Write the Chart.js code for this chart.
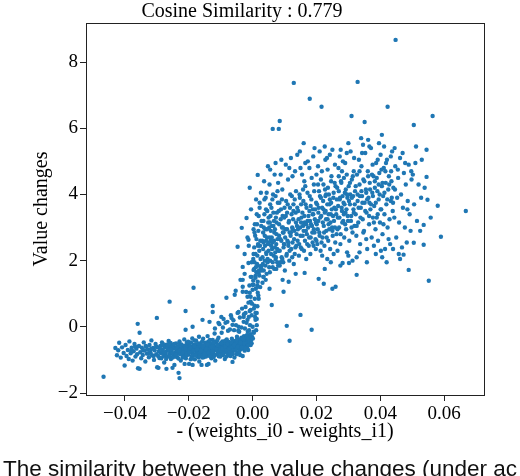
<!DOCTYPE html>
<html>
<head>
<meta charset="utf-8">
<script src="https://cdn.jsdelivr.net/npm/chart.js@4.4.1/dist/chart.umd.min.js"></script>
<style>
  html, body { margin: 0; padding: 0; background: #fff; overflow: hidden; }
  #wrap { position: relative; width: 520px; height: 476px; }
  #caption {
    position: absolute; left: 3px; top: 458px; white-space: nowrap;
    font-family: "Liberation Sans", Arial, sans-serif; font-size: 22.5px; line-height: 22px; color: #111;
  }
</style>
</head>
<body>
<div id="wrap">
  <canvas id="scatterChart" width="520" height="476"></canvas>
  <div id="caption">The similarity between the value changes (under ac</div>
</div>
<script>
const chartTitle = 'Cosine Similarity : 0.779';
const xTitle = '- (weights_i0 - weights_i1)';
const yTitle = 'Value changes';
const xTicks = [-0.04, -0.02, 0.00, 0.02, 0.04, 0.06];
const yTicks = [-2, 0, 2, 4, 6, 8];

// left band, x < 0
const bandPoints = [
  [-0.0430,-0.64],[-0.0425,-0.86],[-0.0421,-0.71],[-0.0418,-0.48],[-0.0413,-0.93],[-0.0409,-0.62],[-0.0404,-0.79],[-0.0401,-1.17],
  [-0.0398,-0.55],[-0.0395,-0.88],[-0.0391,-0.70],[-0.0388,-0.97],[-0.0386,-0.44],[-0.0382,-0.80],[-0.0379,-0.63],[-0.0376,-1.02],
  [-0.0373,-0.74],[-0.0370,-0.52],[-0.0367,-0.90],[-0.0364,-0.66],[-0.0362,-0.83],[-0.0359,-1.25],[-0.0356,-0.58],[-0.0354,-0.18],
  [-0.0352,-0.77],[-0.0349,-0.95],[-0.0347,-0.63],[-0.0344,-0.85],[-0.0341,-0.47],[-0.0338,-0.72],[-0.0336,-1.05],[-0.0333,-0.60],
  [-0.0331,-0.81],[-0.0328,-0.68],[-0.0325,-0.92],[-0.0323,-0.55],[-0.0320,-0.77],[-0.0317,-0.41],[-0.0315,-0.86],[-0.0312,-0.64],
  [-0.0309,-1.00],[-0.0307,-0.71],[-0.0304,-0.52],[-0.0302,-0.83],[-0.0299,-1.22],[-0.0297,-0.62],[-0.0294,-0.75],[-0.0292,-0.94],
  [-0.0289,-0.58],[-0.0287,-0.80],[-0.0284,-0.47],[-0.0282,-0.69],[-0.0279,-0.88],[-0.0277,-1.08],[-0.0275,-0.63],[-0.0272,-0.76],
  [-0.0270,-0.54],[-0.0268,-0.91],[-0.0265,-0.70],[-0.0263,-0.43],[-0.0261,-0.82],[-0.0258,-0.61],[-0.0256,-0.97],[-0.0254,-0.73],
  [-0.0251,-0.56],[-0.0249,-0.85],[-0.0247,-0.66],[-0.0245,-1.15],[-0.0242,-0.78],[-0.0240,-0.50],[-0.0238,-0.70],[-0.0236,-0.92],
  [-0.0233,-0.62],[-0.0231,-0.81],[-0.0229,-0.44],[-0.0227,-0.68],[-0.0225,-1.02],[-0.0222,-0.75],[-0.0220,-0.58],[-0.0218,-0.87],
  [-0.0216,-0.65],[-0.0214,-0.38],[-0.0212,-0.79],[-0.0209,-0.95],[-0.0207,-0.60],[-0.0205,-0.72],[-0.0203,-0.52],[-0.0201,-0.84],
  [-0.0199,-1.12],[-0.0197,-0.67],[-0.0195,-0.76],[-0.0193,-0.47],[-0.0191,-0.90],[-0.0189,-0.62],[-0.0187,-0.80],[-0.0185,-0.55],
  [-0.0183,-0.70],[-0.0181,-0.98],[-0.0179,-0.64],[-0.0177,-0.42],[-0.0175,-0.78],[-0.0173,-0.88],[-0.0171,-0.58],[-0.0169,-0.72],
  [-0.0167,-1.05],[-0.0165,-0.66],[-0.0163,-0.50],[-0.0161,-0.83],[-0.0159,-0.61],[-0.0157,-0.74],[-0.0155,-0.36],[-0.0153,-0.92],
  [-0.0151,-0.68],[-0.0149,-0.55],[-0.0147,-0.79],[-0.0145,-0.63],[-0.0143,-1.15],[-0.0141,-0.71],[-0.0139,-0.45],[-0.0137,-0.86],
  [-0.0135,-0.60],[-0.0133,-0.75],[-0.0131,-0.52],[-0.0129,-0.95],[-0.0127,-0.66],[-0.0125,-0.40],[-0.0123,-0.80],[-0.0121,-0.58],
  [-0.0119,-0.70],[-0.0117,-1.02],[-0.0115,-0.62],[-0.0113,-0.48],[-0.0111,-0.82],[-0.0109,-0.67],[-0.0107,-0.33],[-0.0105,-0.76],
  [-0.0103,-0.55],[-0.0101,-0.90],[-0.0099,-0.61],[-0.0097,-0.72],[-0.0095,-0.44],[-0.0093,-0.85],[-0.0091,-0.58],[-0.0089,-0.68],
  [-0.0087,-0.97],[-0.0085,-0.52],[-0.0083,-0.75],[-0.0081,-0.38],[-0.0079,-0.63],[-0.0077,-0.82],[-0.0075,-0.55],[-0.0073,-0.70],
  [-0.0071,-0.47],[-0.0069,-0.88],[-0.0067,-0.60],[-0.0065,-0.36],[-0.0063,-0.73],[-0.0061,-0.52],[-0.0059,-0.65],[-0.0057,-0.93],
  [-0.0055,-0.44],[-0.0053,-0.68],[-0.0051,-0.57],[-0.0049,-0.30],[-0.0047,-0.78],[-0.0045,-0.50],[-0.0043,-0.62],[-0.0041,-0.40],
  [-0.0039,-0.85],[-0.0037,-0.55],[-0.0035,-0.33],[-0.0033,-0.66],[-0.0031,-0.47],[-0.0029,-0.58],[-0.0027,-0.28],[-0.0025,-0.72],
  [-0.0023,-0.42],[-0.0021,-0.52],[-0.0019,-0.35],[-0.0017,-0.63],[-0.0015,-0.45],[-0.0013,-0.26],[-0.0011,-0.55],[-0.0009,-0.38],
  [-0.0007,-0.48],
  [-0.0283,-0.73],[-0.0278,-0.57],[-0.0273,-0.84],[-0.0267,-0.62],[-0.0262,-0.70],[-0.0257,-0.49],[-0.0252,-0.79],[-0.0248,-0.60],
  [-0.0243,-0.90],[-0.0239,-0.66],[-0.0234,-0.74],[-0.0230,-0.55],[-0.0226,-0.83],[-0.0221,-0.64],[-0.0217,-0.71],[-0.0213,-0.57],
  [-0.0208,-0.80],[-0.0204,-0.63],[-0.0200,-0.69],[-0.0196,-0.58],[-0.0192,-0.74],[-0.0188,-0.87],[-0.0184,-0.66],[-0.0180,-0.53],
  [-0.0176,-0.71],[-0.0172,-0.63],[-0.0168,-0.80],[-0.0164,-0.57],[-0.0160,-0.69],[-0.0156,-0.61],[-0.0152,-0.77],[-0.0148,-0.48],
  [-0.0144,-0.66],[-0.0140,-0.58],[-0.0136,-0.72],[-0.0132,-0.63],[-0.0128,-0.83],[-0.0124,-0.55],[-0.0120,-0.66],[-0.0116,-0.45],
  [-0.0112,-0.71],[-0.0108,-0.59],[-0.0104,-0.64],[-0.0100,-0.50],[-0.0096,-0.77],[-0.0092,-0.62],[-0.0088,-0.54],[-0.0084,-0.66],
  [-0.0080,-0.58],[-0.0076,-0.45],[-0.0072,-0.62],[-0.0068,-0.52],[-0.0064,-0.70],[-0.0060,-0.43],[-0.0056,-0.58],[-0.0052,-0.48],
  [-0.0048,-0.65],[-0.0044,-0.38],[-0.0040,-0.55],[-0.0036,-0.45],[-0.0032,-0.56],[-0.0028,-0.40],[-0.0024,-0.52],[-0.0020,-0.30],
  [-0.0016,-0.44],[-0.0012,-0.36],[-0.0008,-0.28],[-0.0004,-0.40],
  [-0.0219,-0.93],[-0.0206,-0.47],[-0.0194,-0.98],[-0.0182,-0.41],[-0.0170,-0.92],[-0.0158,-0.44],[-0.0146,-0.90],[-0.0134,-0.40],
  [-0.0122,-0.91],[-0.0110,-0.40],[-0.0098,-0.85],[-0.0086,-0.42],[-0.0074,-0.86],[-0.0062,-0.60],[-0.0050,-0.83],[-0.0038,-0.68],
  [-0.0026,-0.60],[-0.0014,-0.70],[-0.0006,-0.55],[-0.0002,-0.30],
  [-0.0296,-0.88],[-0.0291,-0.66],[-0.0286,-0.95],[-0.0281,-0.52],[-0.0276,-0.78],[-0.0271,-0.97],[-0.0266,-0.55],[-0.0260,-0.89],
  [-0.0255,-0.68],[-0.0250,-0.93],[-0.0246,-0.52],[-0.0241,-0.84],[-0.0237,-0.61],[-0.0232,-0.96],[-0.0228,-0.72],[-0.0223,-0.53],
  [-0.0219,-0.78],[-0.0215,-0.91],[-0.0211,-0.66],[-0.0206,-0.85],[-0.0202,-0.45],[-0.0198,-0.78],[-0.0194,-0.64],[-0.0190,-0.96],
  [-0.0186,-0.72],[-0.0182,-0.59],[-0.0178,-0.86],[-0.0174,-0.68],[-0.0170,-0.50],[-0.0166,-0.88],[-0.0162,-0.73],[-0.0158,-0.93],
  [-0.0154,-0.56],[-0.0150,-0.82],[-0.0146,-0.69],[-0.0142,-0.53],[-0.0138,-0.79],[-0.0134,-0.88],[-0.0130,-0.61],[-0.0126,-0.74],
  [-0.0122,-0.47],[-0.0118,-0.85],[-0.0114,-0.67],[-0.0110,-0.55],[-0.0106,-0.89],[-0.0102,-0.70],[-0.0098,-0.49],[-0.0094,-0.66],
  [-0.0090,-0.80],[-0.0086,-0.60],[-0.0082,-0.90],[-0.0078,-0.52],[-0.0074,-0.67],[-0.0070,-0.78],[-0.0066,-0.47],[-0.0062,-0.82],
  [-0.0058,-0.55],[-0.0054,-0.72],[-0.0050,-0.40],[-0.0046,-0.60],[-0.0042,-0.75],[-0.0038,-0.48],[-0.0034,-0.62],[-0.0030,-0.35],
  [-0.0026,-0.50],[-0.0022,-0.65],[-0.0018,-0.25],[-0.0014,-0.55],[-0.0010,-0.45],[-0.0006,-0.22],[-0.0003,-0.50],[0.0001,-0.35],
  [0.0003,-0.15],
  [-0.0189,-0.35],[-0.0168,-0.30],[-0.0141,-0.28],[-0.0119,-0.20],[-0.0097,-0.18],[-0.0077,-0.12],[-0.0058,-0.10],[-0.0042,-0.15],
  [-0.0024,-0.05],[-0.0011,-0.10],[-0.0335,-0.58],[-0.0326,-0.80],[-0.0318,-0.67],[-0.0310,-0.88],[-0.0302,-0.60],[-0.0380,-0.72],
  [-0.0368,-0.60],[-0.0343,-0.70],
  [-0.0467,-1.51],[-0.0354,-1.27],[-0.0295,-1.24],[-0.0270,-1.27],[-0.0251,-1.24],[-0.0213,-1.12],[-0.0188,-1.15],[-0.0160,-1.15],
  [-0.0138,-1.12],[-0.0063,-1.06],[-0.0031,-0.88],[-0.0229,-1.55],[-0.0232,-1.39]
];

// points lifted above the band and the steep rise near x = 0
const risePoints = [
  [-0.0360,0.09],[-0.0300,0.27],[-0.0260,0.76],[-0.0210,0.48],[-0.0185,1.18],[-0.0210,-0.09],[-0.0188,0.00],[-0.0157,0.21],
  [-0.0125,0.63],[-0.0125,0.45],[-0.0135,0.15],[-0.0107,0.12],[-0.0091,0.24],[-0.0085,0.12],[-0.0082,0.88],[-0.0056,0.97],
  [-0.0053,1.09],[-0.0031,1.42],[-0.0031,1.21],[-0.0025,1.60],[-0.0047,0.42],[-0.0022,0.42],[-0.0028,0.15],[-0.0066,0.27],
  [-0.0063,0.06],[-0.0044,0.00],[-0.0013,0.73],[-0.0006,0.91],[0.0000,1.12],[0.0013,0.42],[0.0013,0.24],[0.0003,1.27],
  [0.0019,0.85],[0.0016,1.03],[0.0009,1.54],[-0.0003,1.51],[0.0034,1.51],[0.0031,1.33],
  [-0.0038,1.42],[-0.0031,1.06],[-0.0016,0.91],[-0.0009,1.03],[0.0000,1.27],[-0.0006,0.76],[-0.0022,0.60],[-0.0006,0.51],
  [-0.0044,0.45],[-0.0028,0.30],[0.0009,0.42],[-0.0016,0.21],[0.0009,0.21],[0.0000,0.00],[-0.0047,2.42],[-0.0013,2.63],
  [-0.0031,1.81],[-0.0013,1.93],[0.0003,1.72],[-0.0006,1.51],[0.0009,1.48],[0.0019,1.63],[0.0025,1.81],[0.0034,1.51],
  [0.0016,1.36],[0.0041,1.42],[0.0006,0.64],[-0.0003,0.35],[0.0011,-0.10],[-0.0008,0.05],[0.0004,-0.18],[0.0015,0.62],
  [0.0004,0.55],[0.0007,0.85],[0.0010,1.15],[0.0002,1.40],[0.0012,1.65],[0.0006,1.95],[0.0015,1.25],[0.0018,0.95],
  [0.0021,1.55],[0.0008,0.30],[-0.0002,0.70],[0.0013,0.05],[0.0024,1.20],[0.0028,1.70],[-0.0010,1.25],[0.0017,1.85],
  [0.0003,2.20],[-0.0020,1.05],
  [-0.0118,-0.05],[-0.0104,0.08],[-0.0093,-0.02],[-0.0079,0.15],[-0.0071,-0.08],[-0.0060,0.20],[-0.0052,0.05],[-0.0040,0.28],
  [-0.0035,-0.02],[-0.0027,0.38],[-0.0019,0.12],[-0.0012,0.30],[-0.0045,-0.12],[-0.0068,0.35],[-0.0098,0.30],[-0.0015,-0.15],
  [-0.0033,0.55],[-0.0009,0.48]
];

// right cloud, x > 0
const cloudPoints = [
  [-0.0034,2.99],[-0.0019,3.29],[-0.0009,4.20],[0.0016,4.59],[-0.0025,2.20],[-0.0012,2.45],[0.0002,2.05],[0.0008,2.75],
  [0.0014,1.90],[0.0021,2.30],[0.0027,3.05],[-0.0005,3.55],[0.0011,3.85],[0.0024,2.60],[0.0005,1.75],[0.0019,3.35],
  [-0.0016,2.70],[0.0029,1.85],[0.0009,2.20],[0.0026,4.05],[0.0003,2.95],[0.0017,2.50],[-0.0003,1.95],[0.0022,3.60],
  [0.0031,2.10],[0.0033,2.85],[0.0035,1.70],[0.0037,3.40],[0.0039,2.45],[0.0041,3.90],[0.0043,2.20],[0.0045,2.70],
  [0.0047,1.95],[0.0049,3.15],[0.0051,2.55],[0.0053,4.30],[0.0055,2.00],[0.0057,2.90],[0.0059,3.60],[0.0061,2.35],
  [0.0063,1.80],[0.0065,3.05],[0.0067,2.60],[0.0069,4.60],[0.0071,2.25],[0.0073,3.30],[0.0075,2.80],[0.0077,1.95],
  [0.0079,3.75],[0.0034,3.20],[0.0038,2.00],[0.0042,2.60],[0.0046,3.50],[0.0050,2.30],[0.0054,1.65],[0.0058,2.45],
  [0.0062,3.85],[0.0066,2.15],[0.0070,2.95],[0.0074,2.50],[0.0078,4.10],[0.0036,4.40],[0.0044,1.60],[0.0052,3.00],
  [0.0060,2.70],[0.0068,1.75],[0.0076,3.45],[0.0040,2.95],[0.0056,3.35],[0.0064,4.00],[0.0072,2.05],[0.0063,5.98],
  [0.0082,5.98],[0.0085,6.22],[0.0048,4.85],[0.0072,4.95],
  [0.0081,2.30],[0.0083,3.10],[0.0085,1.85],[0.0087,2.65],[0.0089,3.55],[0.0091,2.10],[0.0093,4.15],[0.0095,2.85],
  [0.0097,2.40],[0.0099,3.30],[0.0101,1.70],[0.0103,2.95],[0.0105,3.80],[0.0107,2.20],[0.0109,2.60],[0.0111,4.45],
  [0.0113,3.15],[0.0115,2.00],[0.0117,3.60],[0.0119,2.75],[0.0121,2.35],[0.0123,3.95],[0.0125,2.55],[0.0127,3.25],
  [0.0129,1.90],[0.0131,2.90],[0.0133,4.70],[0.0135,3.45],[0.0137,2.45],[0.0139,3.05],[0.0084,3.75],[0.0092,3.00],
  [0.0100,2.50],[0.0108,3.45],[0.0116,2.85],[0.0124,3.00],[0.0132,2.20],[0.0088,4.60],[0.0104,4.90],[0.0120,5.10],
  [0.0136,4.10],[0.0096,1.95],[0.0112,2.45],[0.0128,3.70],[0.0129,7.37],
  [0.0141,2.60],[0.0143,3.50],[0.0145,2.15],[0.0147,4.00],[0.0149,3.00],[0.0151,2.40],[0.0153,3.30],[0.0155,4.60],
  [0.0157,2.75],[0.0159,3.80],[0.0161,2.30],[0.0163,3.15],[0.0165,4.25],[0.0167,2.90],[0.0169,3.60],[0.0171,2.50],
  [0.0173,5.00],[0.0175,3.35],[0.0177,2.70],[0.0179,3.95],[0.0181,2.20],[0.0183,3.10],[0.0185,4.50],[0.0187,2.85],
  [0.0189,3.55],[0.0191,2.45],[0.0193,4.10],[0.0195,3.25],[0.0197,2.65],[0.0199,3.75],[0.0148,5.30],[0.0158,3.05],
  [0.0168,2.05],[0.0178,4.80],[0.0188,3.40],[0.0198,2.35],[0.0152,3.70],[0.0162,4.40],[0.0172,3.20],[0.0182,3.65],
  [0.0192,2.95],[0.0179,6.89],[0.0160,5.55],[0.0194,5.40],
  [0.0201,3.10],[0.0203,2.50],[0.0205,4.30],[0.0207,3.60],[0.0209,2.85],[0.0211,3.95],[0.0213,2.30],[0.0215,3.35],
  [0.0217,4.70],[0.0219,2.70],[0.0221,3.80],[0.0223,3.05],[0.0225,2.45],[0.0227,4.15],[0.0229,3.50],[0.0231,2.90],
  [0.0233,5.10],[0.0235,3.25],[0.0237,2.60],[0.0239,4.00],[0.0241,3.70],[0.0243,2.35],[0.0245,3.40],[0.0247,4.55],
  [0.0249,3.00],[0.0251,2.75],[0.0253,3.90],[0.0255,3.20],[0.0257,4.35],[0.0259,2.55],[0.0206,3.20],[0.0214,4.45],
  [0.0222,3.55],[0.0230,4.00],[0.0238,3.10],[0.0246,3.75],[0.0254,2.20],[0.0210,5.30],[0.0226,5.45],[0.0242,5.20],
  [0.0258,4.90],[0.0216,6.65],[0.0218,2.15],[0.0234,2.05],
  [0.0261,3.55],[0.0263,2.80],[0.0265,4.20],[0.0267,3.30],[0.0269,4.80],[0.0271,3.00],[0.0273,3.85],[0.0275,2.50],
  [0.0277,4.40],[0.0279,3.60],[0.0281,3.15],[0.0283,5.00],[0.0285,3.75],[0.0287,2.70],[0.0289,4.05],[0.0291,3.45],
  [0.0293,2.95],[0.0295,4.60],[0.0297,3.90],[0.0299,3.20],[0.0301,4.25],[0.0303,2.60],[0.0305,3.70],[0.0307,5.30],
  [0.0309,3.35],[0.0311,4.45],[0.0313,2.85],[0.0315,3.95],[0.0317,4.70],[0.0319,3.05],[0.0266,2.30],[0.0276,5.35],
  [0.0286,3.40],[0.0296,2.25],[0.0306,4.00],[0.0316,3.55],[0.0270,4.55],[0.0290,4.95],[0.0310,3.00],[0.0310,6.37],
  [0.0300,5.55],
  [0.0321,4.10],[0.0323,3.40],[0.0325,2.75],[0.0327,4.60],[0.0329,3.80],[0.0331,3.15],[0.0333,5.05],[0.0335,4.30],
  [0.0337,2.50],[0.0339,3.60],[0.0341,4.85],[0.0343,3.95],[0.0345,3.25],[0.0347,4.45],[0.0349,2.90],[0.0351,3.75],
  [0.0353,5.25],[0.0355,4.15],[0.0357,3.45],[0.0359,2.35],[0.0361,4.70],[0.0363,3.90],[0.0365,3.10],[0.0367,4.35],
  [0.0369,3.55],[0.0371,5.40],[0.0373,2.70],[0.0375,4.05],[0.0377,3.30],[0.0379,4.55],[0.0326,2.10],[0.0336,3.95],
  [0.0346,5.50],[0.0356,2.65],[0.0366,3.75],[0.0376,4.90],[0.0329,7.40],[0.0351,6.19],[0.0340,5.70],[0.0362,5.65],
  [0.0326,1.57],[0.0313,2.00],[0.0302,1.93],
  [0.0381,3.65],[0.0383,4.40],[0.0385,2.95],[0.0387,4.95],[0.0389,3.30],[0.0391,4.10],[0.0393,2.60],[0.0395,3.85],
  [0.0397,4.65],[0.0399,3.15],[0.0401,5.20],[0.0403,3.55],[0.0405,4.25],[0.0407,2.80],[0.0409,3.95],[0.0411,4.80],
  [0.0413,3.40],[0.0415,2.35],[0.0417,4.35],[0.0419,3.70],[0.0421,5.05],[0.0423,3.00],[0.0425,4.15],[0.0427,4.55],
  [0.0429,3.25],[0.0431,2.50],[0.0433,3.80],[0.0435,4.40],[0.0437,5.30],[0.0439,3.50],[0.0386,2.20],[0.0396,5.55],
  [0.0406,2.10],[0.0416,4.70],[0.0426,2.65],[0.0436,3.90],[0.0423,6.65],[0.0448,8.67],[0.0405,5.80],
  [0.0441,4.20],[0.0444,3.30],[0.0447,4.85],[0.0450,2.70],[0.0453,3.90],[0.0456,4.50],[0.0459,3.15],[0.0462,5.10],
  [0.0465,4.00],[0.0468,2.40],[0.0471,3.60],[0.0474,4.65],[0.0477,3.00],[0.0480,4.30],[0.0483,2.55],[0.0486,3.80],
  [0.0489,4.90],[0.0492,3.40],[0.0495,2.90],[0.0498,4.45],[0.0445,5.40],[0.0458,2.20],[0.0470,5.25],[0.0485,3.55],
  [0.0473,2.18],[0.0489,1.72],[0.0505,6.10],
  [0.0502,4.60],[0.0506,3.70],[0.0505,2.54],[0.0510,4.95],[0.0515,3.20],[0.0520,4.30],[0.0525,2.90],[0.0530,5.05],
  [0.0536,2.48],[0.0536,3.08],[0.0539,4.20],[0.0545,5.35],[0.0545,4.53],[0.0548,3.84],[0.0552,1.39],[0.0558,3.30],
  [0.0564,6.37],[0.0580,3.66],[0.0590,2.72],[0.0668,3.50],[0.0512,5.45],[0.0528,3.90]
];

// denser core of the right cloud
const corePoints = [
  [0.0005,2.40],[0.0007,3.10],[0.0010,1.80],[0.0012,2.65],[0.0013,3.40],[0.0015,2.15],[0.0018,2.90],[0.0020,1.70],
  [0.0022,3.75],[0.0023,2.45],[0.0025,2.05],[0.0028,3.20],[0.0030,2.60],[0.0032,1.90],[0.0033,2.35],[0.0035,3.00],
  [0.0038,2.75],[0.0040,1.85],[0.0042,3.55],[0.0043,2.25],[0.0045,2.95],[0.0048,2.50],[0.0050,3.30],[0.0052,1.80],
  [0.0053,2.70],[0.0055,3.70],[0.0058,2.20],[0.0060,3.05],[0.0062,2.55],[0.0063,1.95],[0.0065,3.45],[0.0068,2.85],
  [0.0070,2.40],[0.0072,3.95],[0.0073,2.10],[0.0075,3.15],[0.0078,2.65],[0.0080,1.85],[0.0082,3.50],[0.0083,2.75],
  [0.0085,2.30],[0.0088,3.25],[0.0090,2.60],[0.0092,3.85],[0.0093,2.05],[0.0095,3.00],[0.0098,2.50],[0.0100,3.60],
  [0.0006,2.85],[0.0017,2.45],[0.0027,1.75],[0.0037,3.85],[0.0047,2.05],[0.0057,2.60],[0.0067,3.20],[0.0077,2.35],
  [0.0087,1.95],[0.0097,2.85],[0.0014,3.10],[0.0034,2.55],[0.0054,3.15],[0.0074,1.75],[0.0094,3.35],[0.0044,4.05],
  [0.0102,2.70],[0.0104,3.35],[0.0106,2.15],[0.0108,2.95],[0.0110,3.70],[0.0112,2.55],[0.0114,3.20],[0.0116,2.30],
  [0.0118,4.00],[0.0120,2.85],[0.0122,3.40],[0.0124,2.10],[0.0126,2.95],[0.0128,3.50],[0.0130,2.65],[0.0132,3.85],
  [0.0134,2.40],[0.0136,3.15],[0.0138,2.80],[0.0140,3.60],[0.0142,2.95],[0.0144,3.25],[0.0146,2.50],[0.0148,3.90],
  [0.0150,2.75],[0.0152,3.15],[0.0154,2.35],[0.0156,3.45],[0.0158,4.15],[0.0160,2.90],[0.0162,3.35],[0.0164,2.60],
  [0.0166,3.70],[0.0168,3.10],[0.0170,2.80],[0.0172,4.05],[0.0174,3.00],[0.0176,2.45],[0.0178,3.50],[0.0180,3.20],
  [0.0182,2.70],[0.0184,3.85],[0.0186,3.05],[0.0188,2.55],[0.0190,3.40],[0.0192,4.30],[0.0194,2.85],[0.0196,3.55],
  [0.0198,3.15],[0.0200,2.60],
  [0.0202,3.70],[0.0204,2.95],[0.0206,3.45],[0.0208,4.10],[0.0210,2.75],[0.0212,3.30],[0.0214,3.90],[0.0216,2.55],
  [0.0218,3.60],[0.0220,3.15],[0.0222,4.30],[0.0224,2.85],[0.0226,3.45],[0.0228,3.95],[0.0230,3.25],[0.0232,2.70],
  [0.0234,3.70],[0.0236,4.20],[0.0238,3.40],[0.0240,2.95],[0.0242,3.85],[0.0244,3.15],[0.0246,4.40],[0.0248,3.55],
  [0.0250,2.90],[0.0252,3.35],[0.0254,4.05],[0.0256,3.60],[0.0258,3.00],[0.0260,4.25],[0.0262,3.40],[0.0264,3.85],
  [0.0266,2.95],[0.0268,3.65],[0.0270,4.10],[0.0272,3.30],[0.0274,3.90],[0.0276,2.80],[0.0278,4.35],[0.0280,3.50],
  [0.0282,3.95],[0.0284,3.20],[0.0286,4.50],[0.0288,3.70],[0.0290,3.10],[0.0292,4.15],[0.0294,3.55],[0.0296,4.00],
  [0.0298,3.35],
  [0.0302,3.80],[0.0305,4.35],[0.0308,3.20],[0.0311,3.90],[0.0314,4.55],[0.0317,3.45],[0.0320,3.70],[0.0323,4.25],
  [0.0326,3.05],[0.0329,4.00],[0.0332,3.60],[0.0335,4.70],[0.0338,3.30],[0.0341,4.10],[0.0344,3.75],[0.0347,2.85],
  [0.0350,4.40],[0.0353,3.50],[0.0356,4.05],[0.0359,3.85],[0.0362,4.55],[0.0365,3.35],[0.0368,4.15],[0.0371,3.70],
  [0.0374,4.60],[0.0377,3.95],[0.0380,3.15],[0.0383,4.20],[0.0386,3.75],[0.0389,4.50],[0.0392,3.40],[0.0395,4.30],
  [0.0398,4.00],[0.0401,3.55],[0.0404,4.75],[0.0407,4.35],[0.0410,3.10],[0.0413,4.05],[0.0418,4.95],[0.0422,3.85],
  [0.0428,4.30],[0.0434,4.70],[0.0440,3.75],[0.0446,4.15],
  [0.0055,4.75],[0.0090,5.05],[0.0115,4.80],[0.0140,5.20],[0.0165,4.95],[0.0190,5.15],[0.0205,4.85],[0.0228,5.05],
  [0.0250,5.35],[0.0273,5.15],[0.0295,5.25],[0.0318,5.10],[0.0343,5.25],[0.0366,5.45],[0.0392,5.05],[0.0412,5.45],
  [0.0433,5.15],[0.0455,4.75],[0.0478,4.95],[0.0497,4.70],[0.0080,4.35],[0.0125,4.55],[0.0150,4.80],[0.0200,4.60],
  [0.0235,4.75],[0.0280,4.70]
];

// sparse points under the right cloud
const strayPoints = [
  [0.0053,1.15],[0.0097,1.06],[0.0113,1.36],[0.0150,0.36],[0.0107,0.03],[0.0185,-0.09],[0.0116,-0.42],[0.0060,0.66],
  [0.0207,1.45],[0.0223,1.30],[0.0250,1.15],[0.0260,1.21],[0.0282,1.93],[0.0226,1.75],[0.0163,1.63],[0.0135,1.60],
  [0.0094,1.42],[0.0016,1.21],
  [0.0335,2.25],[0.0358,1.95],[0.0380,2.45],[0.0402,2.30],[0.0420,1.95],[0.0440,2.35],[0.0462,2.05],[0.0300,2.15],
  [0.0275,1.85],[0.0245,1.95]
];

const allPoints = bandPoints.concat(risePoints, cloudPoints, corePoints, strayPoints).map(p => ({ x: p[0], y: p[1] }));

const serif = '"Liberation Serif", "Times New Roman", serif';

const frame = {
  id: 'frame',
  afterDatasetsDraw(chart) {
    const { ctx, chartArea: a } = chart;
    ctx.save();
    ctx.strokeStyle = '#222';
    ctx.lineWidth = 1;
    ctx.strokeRect(Math.round(a.left) + 0.5, Math.round(a.top) + 0.5, Math.round(a.right - a.left), Math.round(a.bottom - a.top));
    ctx.restore();
  }
};

function fmtX(v) {
  const s = Math.abs(v).toFixed(2);
  return v < 0 ? '\u2212' + s : s;
}

new Chart(document.getElementById('scatterChart').getContext('2d'), {
  type: 'scatter',
  data: {
    datasets: [{
      data: allPoints,
      backgroundColor: '#1f77b4',
      borderWidth: 0,
      pointRadius: 2.2,
      pointHoverRadius: 2.2
    }]
  },
  options: {
    responsive: false,
    animation: false,
    layout: { padding: { left: 0, right: 36, top: 0, bottom: 0 } },
    plugins: {
      legend: { display: false },
      tooltip: { enabled: false },
      title: {
        display: true,
        text: chartTitle,
        color: '#000',
        font: { family: serif, size: 20, weight: 'normal', lineHeight: 1.15 },
        padding: 0
      }
    },
    scales: {
      x: {
        type: 'linear',
        min: -0.0522,
        max: 0.0725,
        afterBuildTicks: s => { s.ticks = xTicks.map(v => ({ value: v })); },
        afterFit: s => { s.height = 81; },
        grid: { drawOnChartArea: false, tickLength: 6, color: '#222' },
        border: { color: '#222', width: 1 },
        ticks: { color: '#000', padding: 2, maxRotation: 0, font: { family: serif, size: 19 }, callback: v => fmtX(v) },
        title: { display: true, text: xTitle, color: '#000', font: { family: serif, size: 20 }, padding: { top: 0, bottom: 32 } }
      },
      y: {
        type: 'linear',
        min: -2.06,
        max: 9.18,
        afterBuildTicks: s => { s.ticks = yTicks.map(v => ({ value: v })); },
        afterFit: s => { s.width = 86; },
        grid: { drawOnChartArea: false, tickLength: 6, color: '#222' },
        border: { color: '#222', width: 1 },
        ticks: { color: '#000', padding: 2, font: { family: serif, size: 19 }, callback: v => (v < 0 ? '\u2212' + Math.abs(v) : String(v)) },
        title: { display: true, text: yTitle, color: '#000', font: { family: serif, size: 20 }, padding: { top: 30, bottom: 0 } }
      }
    }
  },
  plugins: [frame]
});
</script>
</body>
</html>
